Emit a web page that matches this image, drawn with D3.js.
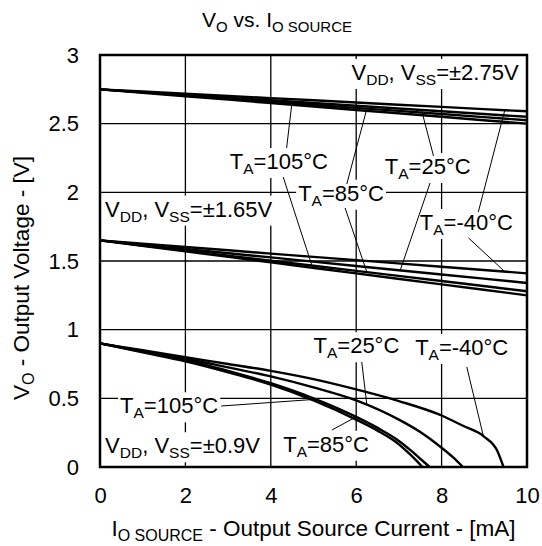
<!DOCTYPE html>
<html>
<head>
<meta charset="utf-8">
<script src="https://d3js.org/d3.v7.min.js"></script>
<style>
  body { margin: 0; background: #fff; }
  svg { font-family: "Liberation Sans", Arial, sans-serif; }
</style>
</head>
<body>
<svg id="chart" width="542" height="546"></svg>
<script>
// tick values / labels
const xTicks = [0, 2, 4, 6, 8, 10];
const xTickLabels = ["0", "2", "4", "6", "8", "10"];
const yTicks = [0, 0.5, 1, 1.5, 2, 2.5, 3];
const yTickLabels = ["0", "0.5", "1", "1.5", "2", "2.5", "3"];

// VDD, VSS = ±2.75V and ±1.65V (output current in mA)
const linI = [0, 2, 4, 6, 8, 10];
const top40 = [2.75, 2.718, 2.686, 2.654, 2.622, 2.59];
const top25 = [2.75, 2.71, 2.67, 2.63, 2.59, 2.55];
const top85 = [2.75, 2.705, 2.66, 2.615, 2.57, 2.525];
const top105 = [2.75, 2.70, 2.65, 2.60, 2.55, 2.50];
const mid40 = [1.65, 1.602, 1.554, 1.506, 1.458, 1.41];
const mid25 = [1.65, 1.588, 1.526, 1.464, 1.402, 1.34];
const mid85 = [1.65, 1.576, 1.502, 1.428, 1.354, 1.28];
const mid105 = [1.65, 1.57, 1.49, 1.41, 1.33, 1.25];

// VDD, VSS = ±0.9V
const bot40I = [0, 1, 2, 3, 4, 5, 6, 7, 8, 8.5, 9, 9.3, 9.45];
const bot40 = [0.9, 0.85, 0.80, 0.75, 0.70, 0.64, 0.565, 0.48, 0.375, 0.30, 0.22, 0.12, 0];
const bot25I = [0, 1, 2, 3, 4, 5, 6, 7, 7.5, 8, 8.25, 8.5];
const bot25 = [0.9, 0.845, 0.79, 0.725, 0.66, 0.58, 0.485, 0.345, 0.255, 0.14, 0.075, 0];
const bot85I = [0, 1, 2, 3, 4, 5, 6, 6.5, 7, 7.3, 7.5, 7.72];
const bot85 = [0.9, 0.84, 0.78, 0.70, 0.61, 0.50, 0.365, 0.285, 0.19, 0.115, 0.06, 0];
const bot105I = [0, 1, 2, 3, 4, 5, 6, 6.5, 7, 7.2, 7.4, 7.55];
const bot105 = [0.9, 0.835, 0.77, 0.69, 0.60, 0.485, 0.345, 0.265, 0.165, 0.11, 0.05, 0];

const series = {
    top40: d3.zip(linI, top40), top25: d3.zip(linI, top25),
    top85: d3.zip(linI, top85), top105: d3.zip(linI, top105),
    mid40: d3.zip(linI, mid40), mid25: d3.zip(linI, mid25),
    mid85: d3.zip(linI, mid85), mid105: d3.zip(linI, mid105),
    bot40: d3.zip(bot40I, bot40), bot25: d3.zip(bot25I, bot25),
    bot85: d3.zip(bot85I, bot85), bot105: d3.zip(bot105I, bot105)
};

// labels: text, anchor (mA, V)
const labelText = ["V_{DD}, V_{SS}=±2.75V", "T_{A}=105°C", "T_{A}=85°C", "T_{A}=25°C", "T_{A}=-40°C",
    "V_{DD}, V_{SS}=±1.65V",
    "T_{A}=25°C", "T_{A}=-40°C", "T_{A}=105°C", "T_{A}=85°C", "V_{DD}, V_{SS}=±0.9V"];
const labelI = [5.89, 3.04, 4.64, 6.67, 7.49, 0.12, 5.0, 7.38, 0.47, 4.29, 0.12];
const labelV = [2.818, 2.17, 1.939, 2.134, 1.726, 1.823, 0.828, 0.816, 0.391, 0.111, 0.10];

// leader lines: start (mA, V) -> point on a curve at given mA
const leadFromI = [4.37, 5.78, 7.81, 8.86, 4.29, 5.74, 7.73, 8.63, 6.13, 8.59, 2.84, 5.43];
const leadFromV = [2.323, 2.061, 2.265, 1.857, 2.112, 1.886, 2.068, 1.668, 0.765, 0.728, 0.444, 0.269];
const leadToI = [4.49, 6.25, 7.53, 9.48, 4.98, 6.25, 7.03, 9.48, 6.25, 8.98, 4.95, 6.0];
const leadTo = ["top105", "top85", "top25", "top40", "mid105", "mid85", "mid25", "mid40",
    "bot25", "bot40", "bot105", "bot85"];

const width = 542, height = 546;
const margin = { top: 55, right: 15, bottom: 79, left: 100 };

const x = d3.scaleLinear().domain([0, 10]).range([margin.left, width - margin.right]);
const y = d3.scaleLinear().domain([0, 3]).range([height - margin.bottom, margin.top]);

const svg = d3.select("#chart");

function valueAt(pts, i) {
    const k = d3.bisector(d => d[0]).right(pts, i);
    const a = pts[Math.max(0, k - 1)], b = pts[Math.min(pts.length - 1, k)];
    if (b[0] === a[0]) return a[1];
    return a[1] + (b[1] - a[1]) * (i - a[0]) / (b[0] - a[0]);
}

// text with _{...} subscripts
function richText(t, str, subSize) {
    let sub = false;
    str.split(/(_\{[^}]*\})/).filter(s => s).forEach(p => {
        if (p.startsWith("_{")) {
            t.append("tspan").attr("dy", 5).attr("font-size", subSize || 15.5).text(p.slice(2, -1));
            sub = true;
        } else {
            const s = t.append("tspan").text(p);
            if (sub) s.attr("dy", -5);
            sub = false;
        }
    });
}

// grid
svg.append("g")
    .attr("stroke", "#000")
    .attr("stroke-width", 1.3)
    .call(g => g.selectAll(".v")
        .data(xTicks.slice(1, -1))
        .join("line")
        .attr("x1", d => x(d)).attr("x2", d => x(d))
        .attr("y1", y(3)).attr("y2", y(0)))
    .call(g => g.selectAll(".h")
        .data(yTicks.slice(1, -1))
        .join("line")
        .attr("x1", x(0)).attr("x2", x(10))
        .attr("y1", d => y(d)).attr("y2", d => y(d)));

// curves
const line = d3.line().x(d => x(d[0])).y(d => y(d[1])).curve(d3.curveMonotoneX);
svg.append("g")
    .attr("fill", "none")
    .attr("stroke", "#000")
    .attr("stroke-width", 2.4)
    .selectAll("path")
    .data(Object.values(series))
    .join("path")
    .attr("d", line);

// labels with white boxes
const labels = svg.append("g").attr("font-size", 22).attr("fill", "#000");
labelText.forEach((s, i) => {
    const g = labels.append("g");
    const t = g.append("text").attr("x", x(labelI[i])).attr("y", y(labelV[i]));
    richText(t, s);
    const b = t.node().getBBox();
    g.insert("rect", "text")
        .attr("x", b.x - 2).attr("y", b.y - 1)
        .attr("width", b.width + 4).attr("height", b.height + 2)
        .attr("fill", "#fff");
});

// leader lines
svg.append("g")
    .attr("stroke", "#000")
    .attr("stroke-width", 1)
    .selectAll("line")
    .data(leadTo)
    .join("line")
    .attr("x1", (d, i) => x(leadFromI[i]))
    .attr("y1", (d, i) => y(leadFromV[i]))
    .attr("x2", (d, i) => x(leadToI[i]))
    .attr("y2", (d, i) => y(valueAt(series[d], leadToI[i])));

// frame
svg.append("rect")
    .attr("x", x(0)).attr("y", y(3))
    .attr("width", x(10) - x(0)).attr("height", y(0) - y(3))
    .attr("fill", "none")
    .attr("stroke", "#000")
    .attr("stroke-width", 2.5);

// axes (labels only)
svg.append("g")
    .attr("transform", `translate(0,${y(0)})`)
    .call(d3.axisBottom(x).tickValues(xTicks).tickFormat((d, i) => xTickLabels[i]).tickSize(0).tickPadding(20))
    .call(g => g.select(".domain").remove())
    .call(g => g.selectAll("text").attr("font-size", 22).attr("font-family", null).attr("fill", "#000"));

svg.append("g")
    .attr("transform", `translate(${x(0)},0)`)
    .call(d3.axisLeft(y).tickValues(yTicks).tickFormat((d, i) => yTickLabels[i]).tickSize(0).tickPadding(21))
    .call(g => g.select(".domain").remove())
    .call(g => g.selectAll("text").attr("font-size", 22).attr("font-family", null).attr("fill", "#000"));

// titles
richText(svg.append("text").attr("x", 202).attr("y", 27).attr("font-size", 21), "V_{O} vs. I_{O SOURCE}", 15);

richText(svg.append("text")
    .attr("x", (x(0) + x(10)) / 2).attr("y", 536)
    .attr("text-anchor", "middle").attr("font-size", 22.5),
    "I_{O SOURCE} - Output Source Current - [mA]", 16);

richText(svg.append("text")
    .attr("transform", `translate(29,278) rotate(-90)`)
    .attr("text-anchor", "middle").attr("font-size", 22.5),
    "V_{O} - Output Voltage - [V]", 16);
</script>
</body>
</html>
